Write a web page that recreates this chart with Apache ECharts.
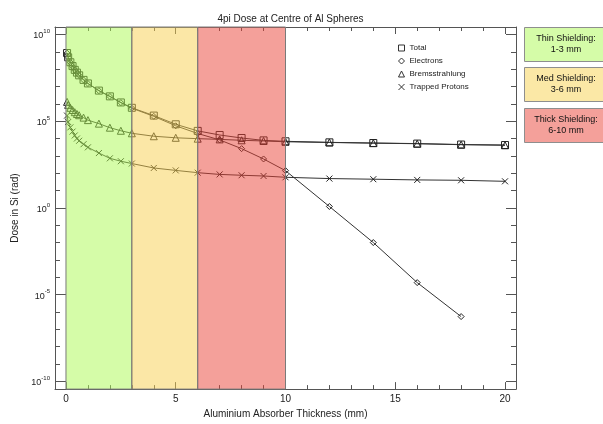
<!DOCTYPE html>
<html>
<head>
<meta charset="utf-8">
<script src="https://cdn.jsdelivr.net/npm/echarts@6/dist/echarts.min.js"></script>
<style>
html,body{margin:0;padding:0;background:#fff;}
#chart{width:603px;height:424px;}
</style>
</head>
<body>
<div id="chart"></div>
<script>
// Aluminium thickness (mm)
var thickness = [0.05, 0.1, 0.2, 0.3, 0.4, 0.5, 0.6, 0.8, 1.0, 1.5, 2.0, 2.5, 3.0, 4, 5, 6, 7, 8, 9, 10, 12, 14, 16, 18, 20];
// Dose in Si (rad)
var totalDose = [8.5e8, 4.8e8, 2.5e8, 1.5e8, 9.1e7, 6.3e7, 4.4e7, 2.4e7, 1.5e7, 5.8e6, 2.7e6, 1.2e6, 5.9e5, 2.1e5, 6.6e4, 2.75e4, 1.6e4, 1.07e4, 7.8e3, 6.9e3, 6.0e3, 5.5e3, 5.1e3, 4.5e3, 4.2e3];
var electronDose = [8.4e8, 4.7e8, 2.45e8, 1.45e8, 8.9e7, 6.2e7, 4.35e7, 2.38e7, 1.48e7, 5.7e6, 2.65e6, 1.17e6, 5.6e5, 1.9e5, 5.4e4, 1.95e4, 8.3e3, 2.6e3, 6.6e2, 1.4e2, 1.2, 1.0e-2, 4.9e-5, 5.4e-7];
var bremsDose = [1.3e6, 8.7e5, 5.9e5, 4.4e5, 3.3e5, 2.6e5, 2.2e5, 1.6e5, 1.15e5, 7.2e4, 4.2e4, 2.8e4, 2.0e4, 1.35e4, 1.1e4, 9.8e3, 8.9e3, 7.9e3, 7.2e3, 6.5e3, 5.9e3, 5.4e3, 5.0e3, 4.4e3, 4.1e3];
var protonDose = [2.1e5, 8.9e4, 4.4e4, 2.5e4, 1.5e4, 1.0e4, 7.4e3, 4.7e3, 3.1e3, 1.45e3, 7.2e2, 4.9e2, 3.6e2, 2.0e2, 1.45e2, 1.07e2, 85, 76, 69, 58, 49, 45, 41, 39, 34];
var seriesNames = ['Total', 'Electrons', 'Bremsstrahlung', 'Trapped Protons'];
// Shielding bands (mm)
var bandNames = ['Thin Shielding:\n1-3 mm', 'Med Shielding:\n3-6 mm', 'Thick Shielding:\n6-10 mm'];
var bandStart = [0, 3, 6];
var bandEnd = [3, 6, 10];

var bandOverlay = ['rgba(172,250,82,0.5)', 'rgba(248,208,78,0.5)', 'rgba(234,66,54,0.5)'];
var bandSolid = ['#d5fca8', '#fbe8a6', '#f4a09a'];
var FONT = 'Liberation Sans, Arial, sans-serif';
var X_PATH = 'path://M0,0L10,10M10,0L0,10';
var symbols = ['rect', 'diamond', 'triangle', X_PATH];
var symSizes = [7, 6, 7, 6];
var doses = [totalDose, electronDose, bremsDose, protonDose];

function toPts(arr) {
  var out = [];
  for (var i = 0; i < arr.length; i++) out.push([thickness[i], Math.log10(arr[i])]);
  return out;
}

var series = [];
for (var s = doses.length - 1; s >= 0; s--) {
  series.push({
    name: seriesNames[s],
    type: 'line',
    xAxisIndex: 0, yAxisIndex: 0,
    data: toPts(doses[s]),
    symbol: symbols[s],
    symbolSize: symSizes[s],
    showAllSymbol: true,
    lineStyle: {color: '#333', width: 1},
    itemStyle: {color: 'rgba(0,0,0,0)', borderColor: '#222', borderWidth: 1},
    emphasis: {disabled: true},
    animation: false,
    z: 3
  });
}
var areas = [];
for (var b = 0; b < bandStart.length; b++) {
  areas.push([{xAxis: bandStart[b], itemStyle: {color: bandOverlay[b]}}, {xAxis: bandEnd[b]}]);
}
series.push({
  name: 'bands', type: 'line', data: [], z: 10,
  markArea: {silent: true, z: 10, itemStyle: {borderColor: '#7a7a7a', borderWidth: 1}, data: areas},
  animation: false
});

var axisLineStyle = {color: '#555', width: 1};
function yLabel(v) {
  if (Math.abs(v - Math.round(v)) > 1e-6) return '';
  return '{b|10}{s|' + Math.round(v) + '}';
}

var graphics = [];
var boxTops = [27, 67, 108];
for (var g = 0; g < bandNames.length; g++) {
  graphics.push({
    type: 'rect', left: 524, top: boxTops[g],
    shape: {width: 84, height: 34},
    style: {fill: bandSolid[g], stroke: '#8e8e8e', lineWidth: 1}
  });
  graphics.push({
    type: 'text', x: 566, y: boxTops[g] + 17,
    style: {text: bandNames[g], fill: '#111', font: '9px ' + FONT, align: 'center', verticalAlign: 'middle', lineHeight: 11}
  });
}

var legendData = [];
for (var l = 0; l < seriesNames.length; l++) {
  legendData.push({name: seriesNames[l], icon: symbols[l],
    itemStyle: {color: 'rgba(0,0,0,0)', borderColor: '#333', borderWidth: 1}});
}

var option = {
  backgroundColor: '#fff',
  animation: false,
  title: {
    text: '4pi Dose at Centre of Al Spheres',
    left: 285.5, top: 9, textAlign: 'center',
    textStyle: {fontFamily: FONT, fontSize: 10, fontWeight: 'normal', color: '#222'}
  },
  legend: {
    orient: 'vertical', left: 398, top: 44, padding: 0,
    itemWidth: 6, itemHeight: 6, itemGap: 5,
    textStyle: {fontFamily: FONT, fontSize: 8, color: '#222'},
    selectedMode: false,
    data: legendData
  },
  grid: {left: 55, top: 27, width: 461, height: 368, containLabel: false},
  xAxis: [{
    type: 'value', min: -0.5, max: 20.5, position: 'bottom',
    name: 'Aluminium Absorber Thickness (mm)', nameLocation: 'middle', nameGap: 17,
    nameTextStyle: {fontFamily: FONT, fontSize: 10, color: '#222'},
    axisLine: {show: true, onZero: false, lineStyle: axisLineStyle},
    axisTick: {show: true, inside: true, length: 7, lineStyle: axisLineStyle},
    minorTick: {show: true, splitNumber: 5, length: 4, lineStyle: axisLineStyle},
    axisLabel: {showMinLabel: false, showMaxLabel: false, margin: 5, fontFamily: FONT, fontSize: 10, color: '#222',
      formatter: function (v) { return Math.abs(v - Math.round(v)) > 1e-6 ? '' : String(Math.round(v)); }},
    splitLine: {show: false}
  }, {
    type: 'value', min: -0.5, max: 20.5, position: 'top',
    axisLine: {show: true, onZero: false, lineStyle: axisLineStyle},
    axisTick: {show: true, inside: true, length: 7, lineStyle: axisLineStyle},
    minorTick: {show: true, splitNumber: 5, length: 4, lineStyle: axisLineStyle},
    axisLabel: {show: false}, splitLine: {show: false}
  }],
  yAxis: [{
    type: 'value', min: -10.45, max: 10.43, position: 'left',
    name: 'Dose in Si (rad)', nameLocation: 'middle', nameGap: 27,
    nameTextStyle: {fontFamily: FONT, fontSize: 10, color: '#222'},
    axisLine: {show: true, onZero: false, lineStyle: axisLineStyle},
    axisTick: {show: true, inside: true, length: 11, lineStyle: axisLineStyle},
    minorTick: {show: true, splitNumber: 5, length: 5, lineStyle: axisLineStyle},
    axisLabel: {showMinLabel: false, showMaxLabel: false, margin: 5, formatter: yLabel,
      rich: {
        b: {fontFamily: FONT, fontSize: 9, color: '#222', lineHeight: 12, verticalAlign: 'bottom'},
        s: {fontFamily: FONT, fontSize: 6, color: '#222', lineHeight: 12, verticalAlign: 'top'}
      }},
    splitLine: {show: false}
  }, {
    type: 'value', min: -10.45, max: 10.43, position: 'right',
    axisLine: {show: true, onZero: false, lineStyle: axisLineStyle},
    axisTick: {show: true, inside: true, length: 10, lineStyle: axisLineStyle},
    minorTick: {show: true, splitNumber: 5, length: 5, lineStyle: axisLineStyle},
    axisLabel: {show: false}, splitLine: {show: false}
  }],
  graphic: graphics,
  series: series
};

var chart = echarts.init(document.getElementById('chart'), null, {renderer: 'canvas'});
chart.setOption(option);
</script>
</body>
</html>
